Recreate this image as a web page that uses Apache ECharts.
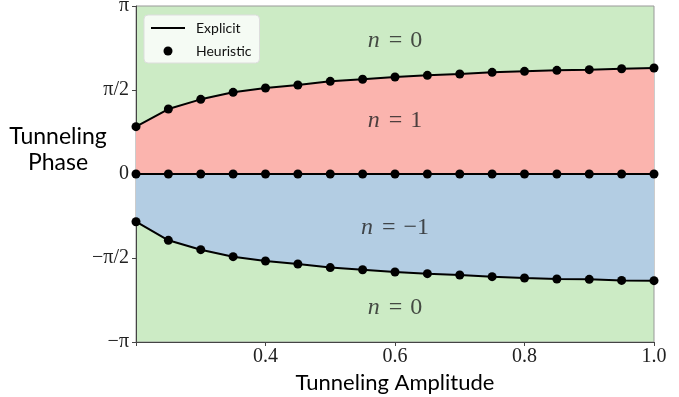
<!DOCTYPE html>
<html>
<head>
<meta charset="utf-8">
<script src="https://cdn.jsdelivr.net/npm/echarts@6/dist/echarts.min.js"></script>
<style>
  html, body { margin: 0; padding: 0; background: #fff; }
  #chart { width: 679px; height: 397px; }
</style>
</head>
<body>
<div id="chart"></div>
<script>
// tunneling amplitude samples
const amplitude = [0.2, 0.25, 0.3, 0.35, 0.4, 0.45, 0.5, 0.55, 0.6, 0.65, 0.7, 0.75, 0.8, 0.85, 0.9, 0.95, 1.0]
// boundary n=0 / n=1 (upper)
const upperPhase = [0.885, 1.215, 1.396, 1.527, 1.608, 1.664, 1.733, 1.771, 1.814, 1.845, 1.870, 1.901, 1.920, 1.939, 1.951, 1.969, 1.982]
// boundary n=1 / n=-1
const zeroPhase = [0, 0, 0, 0, 0, 0, 0, 0, 0, 0, 0, 0, 0, 0, 0, 0, 0]
// boundary n=-1 / n=0 (lower)
const lowerPhase = [-0.892, -1.240, -1.415, -1.546, -1.627, -1.683, -1.750, -1.790, -1.833, -1.864, -1.889, -1.920, -1.945, -1.963, -1.970, -1.990, -1.995]
// region labels [x, y, n]
const regionLabels = [[0.6, 2.5, '0'], [0.6, 1.0, '1'], [0.6, -1.0, '−1'], [0.6, -2.5, '0']]
const yTickLabels = ['−π', '−π/2', '0', 'π/2', 'π']

const PI = Math.PI
const pair = (ys) => amplitude.map((x, i) => [x, ys[i]])

const chart = echarts.init(document.getElementById('chart'))

const lineSeries = (ys, fill) => ({
  name: 'Explicit',
  type: 'line',
  symbol: 'none',
  lineStyle: { color: '#000', width: 2 },
  itemStyle: { color: '#000' },
  areaStyle: fill ? { color: fill, opacity: 1, origin: 'auto' } : undefined,
  data: pair(ys),
  z: 3,
})
const dotSeries = (ys) => ({
  name: 'Heuristic',
  type: 'scatter',
  symbol: 'circle',
  symbolSize: 9,
  itemStyle: { color: '#000', opacity: 1 },
  data: pair(ys),
  z: 4,
})

const option = {
  animation: false,
  grid: {
    left: 136, top: 6, right: 25, bottom: 55,
    outerBoundsMode: 'none',
    show: true,
    backgroundColor: '#ccebc5',
    borderColor: '#999',
    borderWidth: 1,
  },
  // y axis title, placed like matplotlib's horizontal ylabel
  graphic: [{
    type: 'text',
    x: 58, y: 150,
    style: {
      text: 'Tunneling\nPhase',
      fontFamily: 'Lato', fontSize: 23, lineHeight: 26, fill: '#000',
      align: 'center', verticalAlign: 'middle',
    },
  }],
  legend: {
    data: [
      { name: 'Explicit', itemStyle: { color: 'rgba(0,0,0,0)', borderWidth: 0 } },
      { name: 'Heuristic' },
    ],
    orient: 'vertical',
    left: 144, top: 15,
    itemWidth: 34, itemHeight: 9, itemGap: 9,
    padding: [6, 8, 5, 6],
    backgroundColor: 'rgba(255,255,255,0.8)',
    borderColor: '#ddd',
    borderWidth: 1,
    borderRadius: 4,
    textStyle: { fontFamily: 'Lato', fontSize: 14, color: '#111', padding: [0, 0, 0, 6] },
  },
  xAxis: {
    type: 'value',
    min: 0.2, max: 1.0, interval: 0.2,
    name: 'Tunneling Amplitude',
    nameLocation: 'middle',
    nameGap: 21,
    nameTextStyle: { fontFamily: 'Lato', fontSize: 22, color: '#000' },
    axisLine: { show: true, onZero: false, lineStyle: { color: '#444', width: 1 } },
    axisTick: { show: true, length: 4, lineStyle: { color: '#444' } },
    axisLabel: {
      fontFamily: 'Liberation Serif', fontSize: 20, color: '#222', margin: 5,
      formatter: (v) => Math.abs(v - 0.2) < 1e-6 ? '' : v.toFixed(1),
    },
    splitLine: { show: false },
  },
  yAxis: {
    type: 'value',
    min: -PI, max: PI, interval: PI / 2,
    axisLine: { show: true, onZero: false, lineStyle: { color: '#444', width: 1 } },
    axisTick: { show: true, length: 4, lineStyle: { color: '#444' } },
    axisLabel: {
      fontFamily: 'Liberation Serif', fontSize: 20, color: '#222', margin: 7,
      formatter: (v) => yTickLabels[Math.round(v / (PI / 2)) + 2],
    },
    splitLine: { show: false },
  },
  series: [
    lineSeries(upperPhase, '#fbb4ae'),
    lineSeries(lowerPhase, '#b3cde3'),
    lineSeries(zeroPhase, null),
    dotSeries(upperPhase),
    dotSeries(zeroPhase),
    dotSeries(lowerPhase),
    {
      type: 'scatter',
      name: 'labels',
      symbolSize: 0,
      silent: true,
      data: regionLabels.map((d) => ({ value: [d[0], d[1]], n: d[2] })),
      label: {
        show: true,
        position: 'inside',
        formatter: (p) => '{i|n}{e|=}{r|' + p.data.n + '}',
        rich: {
          i: { fontFamily: 'Liberation Serif', fontStyle: 'italic', fontSize: 24, color: '#222' },
          e: { fontFamily: 'Liberation Serif', fontSize: 24, color: '#222', padding: [0, 8, 0, 9] },
          r: { fontFamily: 'Liberation Serif', fontSize: 24, color: '#222' },
        },
      },
      z: 5,
    },
  ],
}
chart.setOption(option)
</script>
</body>
</html>
